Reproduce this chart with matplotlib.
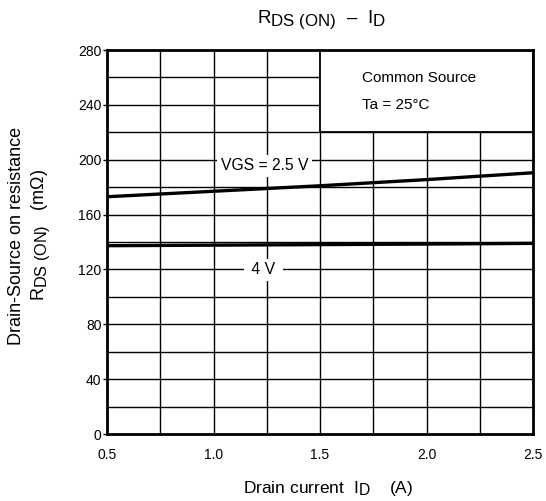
import numpy as np
import matplotlib
matplotlib.use("Agg")
import matplotlib.pyplot as plt
import matplotlib._mathtext as mt

plt.rcParams['font.family'] = ['Liberation Sans', 'DejaVu Sans']
plt.rcParams['mathtext.fontset'] = 'custom'
plt.rcParams['mathtext.rm'] = 'Liberation Sans'
plt.rcParams['mathtext.it'] = 'Liberation Sans'
# subscripts in the reference are nearly full size
mt.SHRINK_FACTOR = 0.9

# data
id_a = [0.5, 1.0, 1.5, 2.0, 2.5]
r_vgs25 = [173.0, 177.0, 181.0, 185.5, 190.5]
r_vgs4 = [137.3, 137.7, 138.1, 138.5, 139.0]

x_ticks = [0.5, 1.0, 1.5, 2.0, 2.5]
x_tick_labels = ['0.5', '1.0', '1.5', '2.0', '2.5']
y_ticks = [0, 40, 80, 120, 160, 200, 240, 280]

fig = plt.figure(figsize=(5.46, 5.01), dpi=100)
ax = fig.add_axes([107 / 546, 1 - 434 / 501, 426 / 546, 384 / 501])

ax.set_xlim(0.5, 2.5)
ax.set_ylim(0, 280)

# grid
for x in np.arange(0.75, 2.5, 0.25):
    ax.axvline(x, color='black', lw=1.0, zorder=1)
for y in np.arange(20, 280, 20):
    ax.axhline(y, color='black', lw=1.0, zorder=1)

# info box (top right) hides the grid
ax.fill_between([1.5, 2.5], 220, 280, facecolor='white', edgecolor='black', lw=1.3, zorder=2)
ax.text(1.695, 259.6, 'Common Source', fontsize=11, va='center', ha='left', zorder=3)
ax.text(1.695, 240, 'Ta = 25°C', fontsize=11, va='center', ha='left', zorder=3)

# curves
ax.plot(id_a, r_vgs25, color='black', lw=2.4, zorder=4)
ax.plot(id_a, r_vgs4, color='black', lw=2.4, zorder=4)

ax.text(1.24, 195.5, 'VGS = 2.5 V', fontsize=11.3, ha='center', va='center', zorder=5,
        bbox=dict(facecolor='white', edgecolor='none', pad=2.5))
ax.text(1.234, 119.6, ' 4 V ', fontsize=11.3, ha='center', va='center', zorder=5,
        bbox=dict(facecolor='white', edgecolor='none', pad=2.5))

ax.set_xticks(x_ticks)
ax.set_xticklabels(x_tick_labels)
ax.set_yticks(y_ticks)
ax.tick_params(axis='x', length=0, pad=10, labelsize=10)
ax.tick_params(axis='y', length=3, width=1.0, pad=1, labelsize=10)
for s in ax.spines.values():
    s.set_linewidth(2.0)
    s.set_zorder(6)

fig.text(322 / 546, 1 - 20 / 501, r'R$_{\mathrm{DS\ (ON)}}$  –  I$_{\mathrm{D}}$', fontsize=13.5,
         ha='center', va='center')
fig.text(328 / 546, 1 - 488 / 501, r'Drain current  I$_{\mathrm{D}}$    (A)', fontsize=12.5,
         ha='center', va='center')
fig.text(17 / 546, 1 - 236 / 501, 'Drain-Source on resistance', fontsize=13,
         rotation=90, ha='center', va='center')
fig.text(41 / 546, 1 - 235 / 501, r'R$_{\mathrm{DS\ (ON)}}$   (mΩ)', fontsize=13,
         rotation=90, ha='center', va='center')

fig.savefig('out.png', dpi=100)
